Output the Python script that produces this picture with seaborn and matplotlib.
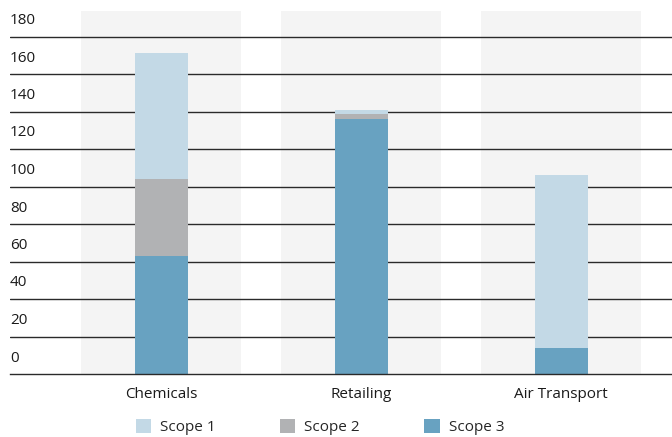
import matplotlib
matplotlib.use("Agg")
import matplotlib.pyplot as plt
import matplotlib.transforms as mtransforms
from matplotlib.patches import Patch
import seaborn as sns
import pandas as pd
import numpy as np

# Emissions by scope for each sector
sectors = ["Chemicals", "Retailing", "Air Transport"]
scope1 = [67, 2.5, 92]
scope2 = [41, 2.5, 0]
scope3 = [63, 136, 14]
y_ticks = [0, 20, 40, 60, 80, 100, 120, 140, 160, 180]
series_names = ["Scope 1", "Scope 2", "Scope 3"]

colors = {"Scope 1": "#c3d9e6", "Scope 2": "#b1b2b4", "Scope 3": "#68a2c1"}

sns.set_theme(style="white")
plt.rcParams["font.family"] = ["Open Sans", "DejaVu Sans"]

W, H, DPI = 672, 437, 100
FS = 11
fig = plt.figure(figsize=(W / DPI, H / DPI), dpi=DPI)
ax = fig.add_axes([10 / W, 1 - 374 / H, 1 - 10 / W, (374 - 11) / H])

# cumulative heights for stacking (drawn tallest first)
s1 = np.array(scope1); s2 = np.array(scope2); s3 = np.array(scope3)
df = pd.DataFrame({
    "sector": sectors,
    "top": s1 + s2 + s3,
    "mid": s2 + s3,
    "low": s3,
})

# shaded band behind each category
for i in range(len(sectors)):
    ax.axvspan(i - 0.4, i + 0.4, color="#f4f4f4", zorder=0, lw=0)

# horizontal gridlines
for v in y_ticks[1:]:
    ax.axhline(v, color="#2a2a2a", lw=1.0, zorder=1)

for col, name in zip(["top", "mid", "low"], series_names):
    sns.barplot(data=df, x="sector", y=col, order=sectors, color=colors[name],
                width=0.265, saturation=1, ax=ax, zorder=2, linewidth=0)

ax.set_xlim(-0.755, 2.553)
ax.set_ylim(0, 193.6)
ax.set_xlabel("")
ax.set_ylabel("")
ax.set_facecolor("white")
for side in ["top", "right", "left"]:
    ax.spines[side].set_visible(False)
ax.spines["bottom"].set_color("#2a2a2a")
ax.spines["bottom"].set_linewidth(1.0)
ax.spines["bottom"].set_zorder(3)

ax.set_yticks([])
ax.set_xticks(range(len(sectors)))
ax.set_xticklabels(sectors, fontsize=FS, color="#1a1a1a")
ax.tick_params(axis="x", which="major", length=0, pad=9)
ax.set_xticks([-0.5, 0.5, 1.5, 2.5], minor=True)
ax.tick_params(axis="x", which="minor", length=5, width=1.0,
               color="#2a2a2a", direction="out")

# y labels sit just above their gridline, aligned to the left edge
base = mtransforms.blended_transform_factory(fig.transFigure, ax.transData)
trans = mtransforms.offset_copy(base, fig=fig, x=0, y=16, units="dots")
for v in y_ticks:
    ax.text(10 / W, v, str(v), transform=trans, ha="left", va="center",
            fontsize=FS, color="#1a1a1a")

handles = [Patch(facecolor=colors[n], edgecolor="none", label=n) for n in series_names]
fig.legend(handles=handles, loc="center", bbox_to_anchor=(320 / W, 1 - 427 / H),
           ncol=3, frameon=False, fontsize=FS, handlelength=1.0,
           handleheight=1.0, handletextpad=0.6, columnspacing=4.2)

fig.savefig("out.png", dpi=DPI)
